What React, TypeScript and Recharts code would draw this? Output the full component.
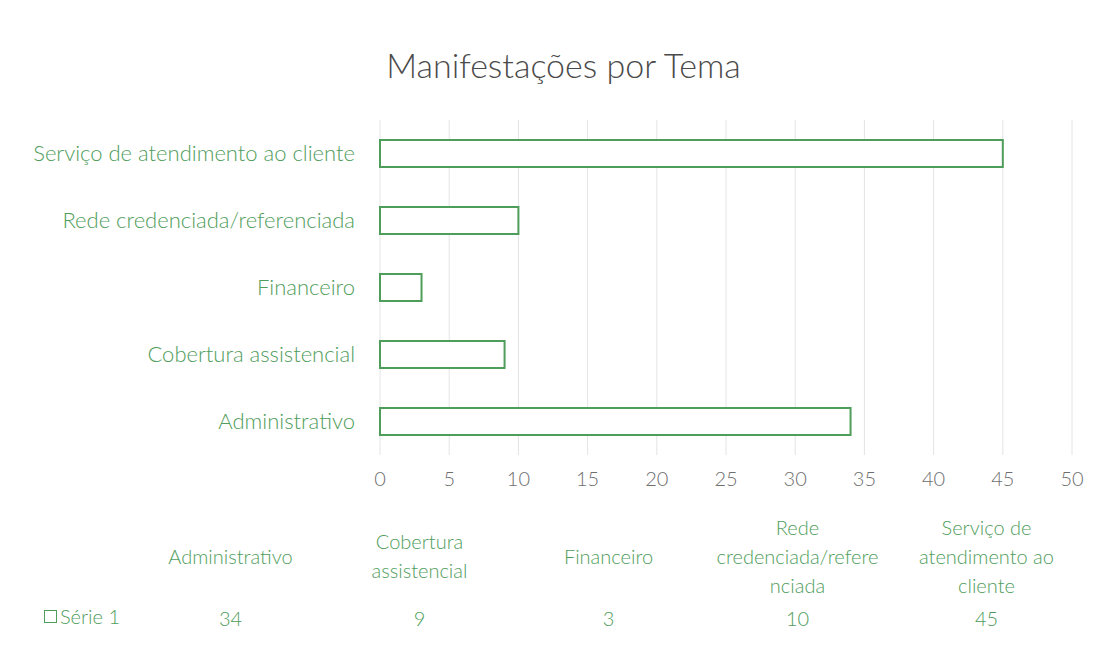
import { Bar, BarChart, CartesianGrid, XAxis, YAxis } from "recharts"

const categories = [
    "Serviço de atendimento ao cliente",
    "Rede credenciada/referenciada",
    "Financeiro",
    "Cobertura assistencial",
    "Administrativo",
]
const values = [45, 10, 3, 9, 34]
const xTicks = [0, 5, 10, 15, 20, 25, 30, 35, 40, 45, 50]

// data table columns (Excel order, bottom category first)
const tableHeaders = [
    ["Administrativo"],
    ["Cobertura", "assistencial"],
    ["Financeiro"],
    ["Rede", "credenciada/refere", "nciada"],
    ["Serviço de", "atendimento ao", "cliente"],
]
const tableValues = [34, 9, 3, 10, 45]
const seriesName = "Série 1"

const data = categories.map((name, i) => ({ name, value: values[i] }))

const GREEN = "#4f9d5b"
const FONT = "Lato, 'Open Sans', sans-serif"

export default function App() {
    return (
        <div style={{ position: "absolute", left: 0, top: 0, width: 1099, height: 661, background: "#fff", fontFamily: FONT, fontWeight: 300 }}>
            <div style={{ position: "absolute", left: 0, width: 1099, top: 44, textAlign: "center" }}>
                <span style={{ position: "relative", left: 14, fontSize: 34, color: "#4a4a4a" }}>Manifestações por Tema</span>
            </div>

            <BarChart
                width={1099}
                height={661}
                data={data}
                layout="vertical"
                margin={{ top: 120, right: 27, bottom: 176, left: 0 }}
                barCategoryGap={0}
            >
                <CartesianGrid horizontal={false} stroke="#e4e4e4" />
                <XAxis
                    type="number"
                    domain={[0, 50]}
                    ticks={xTicks}
                    height={30}
                    tickLine={false}
                    axisLine={false}
                    tickMargin={11}
                    tick={{ fill: "#6f6f6f", fontSize: 20, fontFamily: FONT, fontWeight: 300 }}
                    interval={0}
                />
                <YAxis
                    type="category"
                    dataKey="name"
                    width={380}
                    tickLine={false}
                    axisLine={false}
                    tickMargin={19}
                    tick={{ fill: GREEN, fontSize: 22, fontFamily: FONT, fontWeight: 300 }}
                    interval={0}
                />
                <Bar
                    dataKey="value"
                    fill="#fff"
                    stroke={GREEN}
                    strokeWidth={2}
                    barSize={27}
                    isAnimationActive={false}
                />
            </BarChart>

            {tableHeaders.map((lines, i) => (
                <div
                    key={i}
                    style={{
                        position: "absolute",
                        left: 136 + i * 189,
                        width: 189,
                        top: 556 - (lines.length * 29) / 2,
                        textAlign: "center",
                        color: GREEN,
                        fontSize: 20,
                        lineHeight: "29px",
                        whiteSpace: "nowrap",
                    }}
                >
                    {lines.map((l, j) => (
                        <div key={j}>{l}</div>
                    ))}
                </div>
            ))}

            <div style={{ position: "absolute", left: 44, top: 604, color: GREEN, fontSize: 20, lineHeight: "24px", display: "flex", alignItems: "center" }}>
                <span style={{ display: "inline-block", width: 11, height: 11, border: `1.5px solid ${GREEN}`, marginRight: 3 }} />
                {seriesName}
            </div>
            {tableValues.map((v, i) => (
                <div
                    key={i}
                    style={{
                        position: "absolute",
                        left: 136 + i * 189,
                        width: 189,
                        top: 606,
                        textAlign: "center",
                        color: GREEN,
                        fontSize: 20,
                        lineHeight: "24px",
                    }}
                >
                    {v}
                </div>
            ))}
        </div>
    )
}
